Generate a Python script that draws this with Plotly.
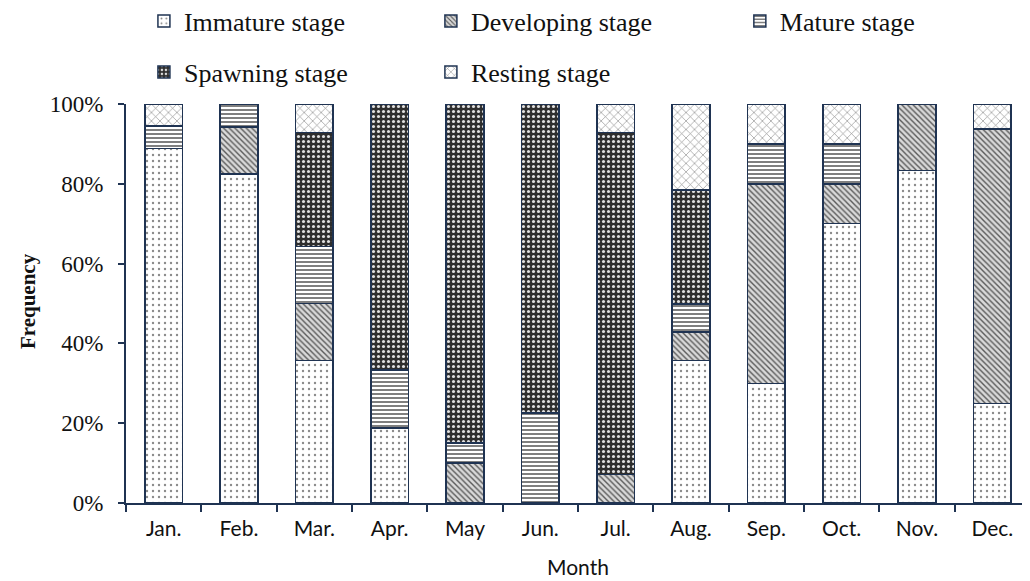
import plotly.graph_objects as go

months = ["Jan.", "Feb.", "Mar.", "Apr.", "May", "Jun.", "Jul.", "Aug.", "Sep.", "Oct.", "Nov.", "Dec."]

immature   = [88.9, 82.4, 35.7, 18.8, 0.0,  0.0,  0.0,  35.7, 30.0, 70.0, 83.3, 25.0]
developing = [0.0,  11.8, 14.3, 0.0,  10.0, 0.0,  7.1,  7.1,  50.0, 10.0, 16.7, 68.75]
mature     = [5.6,  5.8,  14.3, 14.5, 5.0,  22.5, 0.0,  7.1,  10.0, 10.0, 0.0,  0.0]
spawning   = [0.0,  0.0,  28.6, 66.7, 85.0, 77.5, 85.8, 28.6, 0.0,  0.0,  0.0,  0.0]
resting    = [5.5,  0.0,  7.1,  0.0,  0.0,  0.0,  7.1,  21.5, 10.0, 10.0, 0.0,  6.25]

series_names = ["Immature stage", "Developing stage", "Mature stage", "Spawning stage", "Resting stage"]
series_values = [immature, developing, mature, spawning, resting]
y_ticks = [0, 20, 40, 60, 80, 100]
y_ticktext = ["0%", "20%", "40%", "60%", "80%", "100%"]

NAVY = "#1f3352"
SERIF = "Liberation Serif, Times New Roman, serif"
SANS = "Lato, sans-serif"

patterns = [
    dict(shape=".", fgcolor="#8a8a8a", bgcolor="#ffffff", size=6, solidity=0.12),
    dict(shape="\\", fgcolor="#5a5a5a", bgcolor="#d9d9d9", size=4, solidity=0.35),
    dict(shape="-", fgcolor="#707070", bgcolor="#ffffff", size=4, solidity=0.45),
    dict(shape=".", fgcolor="#e0e0e0", bgcolor="#2e2e2e", size=5, solidity=0.3),
    dict(shape="x", fgcolor="#8a8a8a", bgcolor="#ffffff", size=6, solidity=0.2),
]
legend_ids = ["legend", "legend2", "legend3", "legend4", "legend5"]
legend_pos = [(0.133, 0.9773), (0.4138, 0.9773), (0.7161, 0.9773), (0.133, 0.8883), (0.4138, 0.8883)]

fig = go.Figure()
for name, vals, pat, lid in zip(series_names, series_values, patterns, legend_ids):
    fig.add_trace(go.Bar(
        x=months, y=vals, name=name, legend=lid,
        marker=dict(color=pat["bgcolor"], line=dict(color=NAVY, width=1.5),
                    pattern=dict(fillmode="replace", **pat)),
    ))

leg_font = dict(family=SERIF, size=26, color="#111")
layout_legends = {}
for lid, (lx, ly) in zip(legend_ids, legend_pos):
    layout_legends[lid] = dict(x=lx, y=ly, xref="container", yref="container",
                               xanchor="left", yanchor="middle", font=leg_font,
                               bgcolor="rgba(0,0,0,0)", borderwidth=0)

fig.update_layout(
    width=1022, height=573,
    margin=dict(l=118, r=0, t=96, b=78, autoexpand=False),
    barmode="stack", bargap=0.5,
    plot_bgcolor="white", paper_bgcolor="white",
    showlegend=True,
    annotations=[
        dict(text="<b>Frequency</b>", xref="paper", yref="paper", x=-0.1084, y=0.506,
             textangle=-90, showarrow=False, xanchor="center", yanchor="middle",
             font=dict(family=SERIF, size=21, color="#111")),
        dict(text="Month", xref="paper", yref="paper", x=0.5, y=0, yshift=-63,
             showarrow=False, xanchor="center", yanchor="middle",
             font=dict(family=SANS, size=21, color="#111")),
    ],
    **layout_legends,
)
fig.update_xaxes(
    showline=True, linecolor=NAVY, linewidth=2,
    ticks="outside", tickson="boundaries", ticklen=7, tickwidth=2, tickcolor=NAVY,
    ticklabelstandoff=6,
    tickfont=dict(family=SANS, size=21, color="#111"),
    showgrid=False, automargin=False,
)
fig.update_yaxes(
    range=[0, 100], tickvals=y_ticks, ticktext=y_ticktext,
    showline=True, linecolor=NAVY, linewidth=2,
    ticks="outside", ticklen=6, tickwidth=2, tickcolor=NAVY,
    ticklabelstandoff=10,
    tickfont=dict(family=SERIF, size=23, color="#111"),
    showgrid=False, zeroline=False, automargin=False,
)
fig.write_html("out.html")
